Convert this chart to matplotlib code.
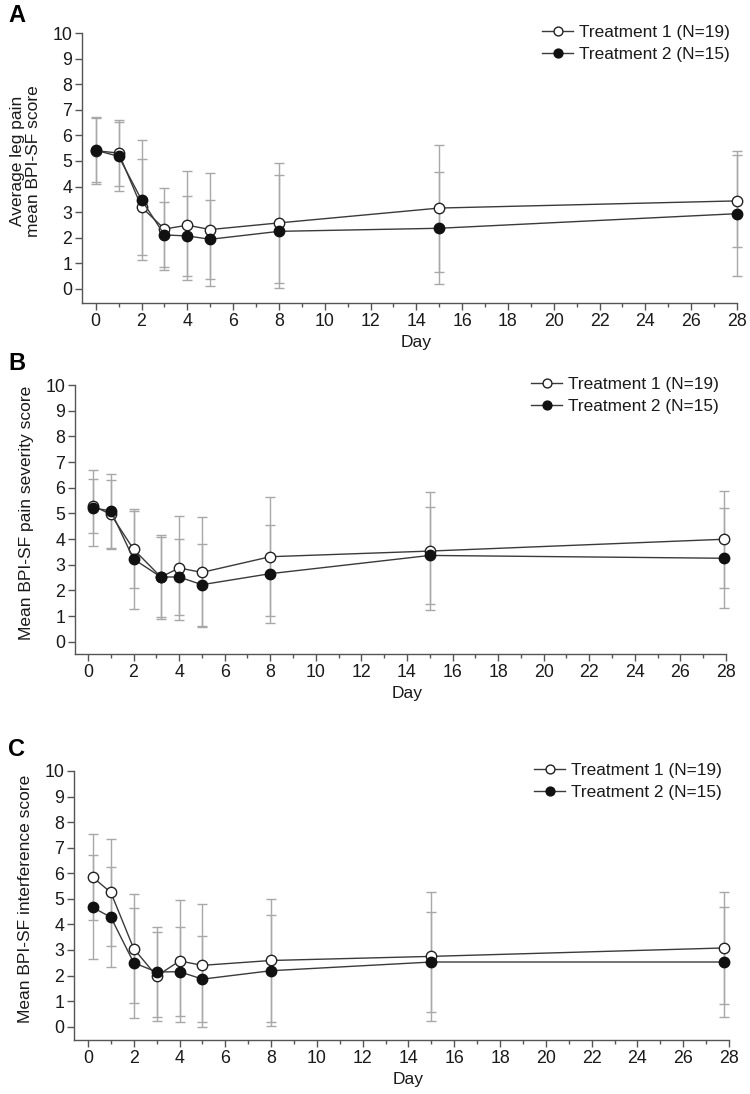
import numpy as np
import matplotlib
matplotlib.use('Agg')
import matplotlib.pyplot as plt
from matplotlib.ticker import MultipleLocator

plt.rcParams['font.family'] = ['Liberation Sans', 'DejaVu Sans']

##### Datos
etiquetas_serie = ['Treatment 1 (N=19)', 'Treatment 2 (N=15)']

# Panel A - dolor de pierna promedio
dias_a = [0, 1, 2, 3, 4, 5, 8, 15, 28]
t1_a = [5.40, 5.31, 3.20, 2.34, 2.49, 2.32, 2.58, 3.16, 3.44]
t1_a_de = [1.30, 1.28, 1.87, 1.59, 2.13, 2.21, 2.35, 2.48, 1.80]
t2_a = [5.42, 5.18, 3.48, 2.11, 2.07, 1.94, 2.25, 2.37, 2.94]
t2_a_de = [1.25, 1.36, 2.35, 1.27, 1.58, 1.54, 2.20, 2.19, 2.44]

# Panel B - severidad del dolor
dias_b = [0.2, 1, 2, 3.2, 4, 5, 8, 15, 27.9]
t1_b = [5.30, 4.96, 3.60, 2.52, 2.87, 2.70, 3.31, 3.53, 3.99]
t1_b_de = [1.05, 1.34, 1.50, 1.57, 2.03, 2.14, 2.31, 2.29, 1.88]
t2_b = [5.21, 5.10, 3.22, 2.52, 2.52, 2.22, 2.65, 3.36, 3.25]
t2_b_de = [1.49, 1.45, 1.96, 1.62, 1.48, 1.60, 1.91, 1.90, 1.94]

# Panel C - interferencia
dias_c = [0.2, 1, 2, 3, 4, 5, 8, 15, 27.8]
t1_c = [5.85, 5.25, 3.05, 1.98, 2.57, 2.40, 2.59, 2.75, 3.08]
t1_c_de = [1.69, 2.09, 2.14, 1.74, 2.40, 2.41, 2.42, 2.53, 2.20]
t2_c = [4.67, 4.28, 2.50, 2.14, 2.15, 1.86, 2.19, 2.53, 2.53]
t2_c_de = [2.04, 1.95, 2.15, 1.76, 1.74, 1.69, 2.18, 1.94, 2.16]

etiquetas_y = ['Average leg pain\nmean BPI-SF score',
               'Mean BPI-SF pain severity score',
               'Mean BPI-SF interference score']
letras = ['A', 'B', 'C']

# posiciones de ejes en pixeles (izq, der, arriba, abajo), xmin, ymin
ancho, alto = 750, 1094
cajas = [(82, 737, 33, 303, -0.6, -0.55),
         (75, 726, 385, 654, -0.57, -0.48),
         (74, 729, 771, 1040, -0.61, -0.52)]
letra_pos = [(8, 16), (8, 364), (8, 750)]
ylabel_x = [-0.062, -0.063, -0.063]

color_linea = '#3a3a3a'
color_error = '#a8a8a8'
color_eje = '#555555'

paneles = [(dias_a, t1_a, t1_a_de, t2_a, t2_a_de),
           (dias_b, t1_b, t1_b_de, t2_b, t2_b_de),
           (dias_c, t1_c, t1_c_de, t2_c, t2_c_de)]

fig = plt.figure(figsize=(ancho / 100, alto / 100), dpi=100)

for i, (dias, m1, s1, m2, s2) in enumerate(paneles):
    izq, der, arr, aba, xmin, ymin = cajas[i]
    ax = fig.add_axes([izq / ancho, 1 - aba / alto, (der - izq) / ancho, (aba - arr) / alto])
    # barras de error primero
    for m, s in [(m1, s1), (m2, s2)]:
        eb = ax.errorbar(dias, m, yerr=s, fmt='none', ecolor=color_error, elinewidth=1,
                         capsize=3.5, capthick=1, zorder=1)
        for parte in eb.lines[1] + eb.lines[2]:
            parte.set_clip_on(False)
    ax.plot(dias, m1, color=color_linea, lw=1, marker='o', ms=7.5, mfc='white',
            mec='#222222', mew=1, label=etiquetas_serie[0], zorder=3, clip_on=False)
    ax.plot(dias, m2, color=color_linea, lw=1, marker='o', ms=7.5, mfc='#111111',
            mec='#111111', mew=1, label=etiquetas_serie[1], zorder=4, clip_on=False)

    ax.set_xlim(xmin, 28)
    ax.set_ylim(ymin, 10)
    ax.xaxis.set_major_locator(MultipleLocator(2))
    ax.xaxis.set_minor_locator(MultipleLocator(1))
    ax.yaxis.set_major_locator(MultipleLocator(1))
    for lado in ['top', 'right']:
        ax.spines[lado].set_visible(False)
    ax.spines['left'].set_bounds(ymin, 10)
    for lado in ['left', 'bottom']:
        ax.spines[lado].set_color(color_eje)
        ax.spines[lado].set_linewidth(1)
    ax.tick_params(axis='both', which='major', labelsize=12.8, length=5, width=1,
                   color=color_eje, labelcolor='#1a1a1a', pad=2)
    ax.tick_params(axis='x', which='minor', length=3, width=1, color=color_eje)

    ax.set_xlabel('Day', fontsize=12.5, color='#1a1a1a')
    ax.xaxis.set_label_coords((14 - xmin) / (28 - xmin), -0.12)
    ax.set_ylabel(etiquetas_y[i], fontsize=12.5, color='#1a1a1a', linespacing=1.1)
    ax.yaxis.set_label_coords(ylabel_x[i], (0 - ymin + 5) / (10 - ymin))

    leg = ax.legend(loc='upper right', bbox_to_anchor=(1.0, 1.055), frameon=False,
                    fontsize=12.4, handlelength=1.8, handletextpad=0.35,
                    labelspacing=0.38, borderaxespad=0, markerscale=0.85)
    for texto in leg.get_texts():
        texto.set_color('#1a1a1a')

    lx, ly = letra_pos[i]
    fig.text(lx / ancho, 1 - ly / alto, letras[i], fontsize=17, fontweight='bold',
             ha='left', va='center')

fig.savefig('out.png', dpi=100)
